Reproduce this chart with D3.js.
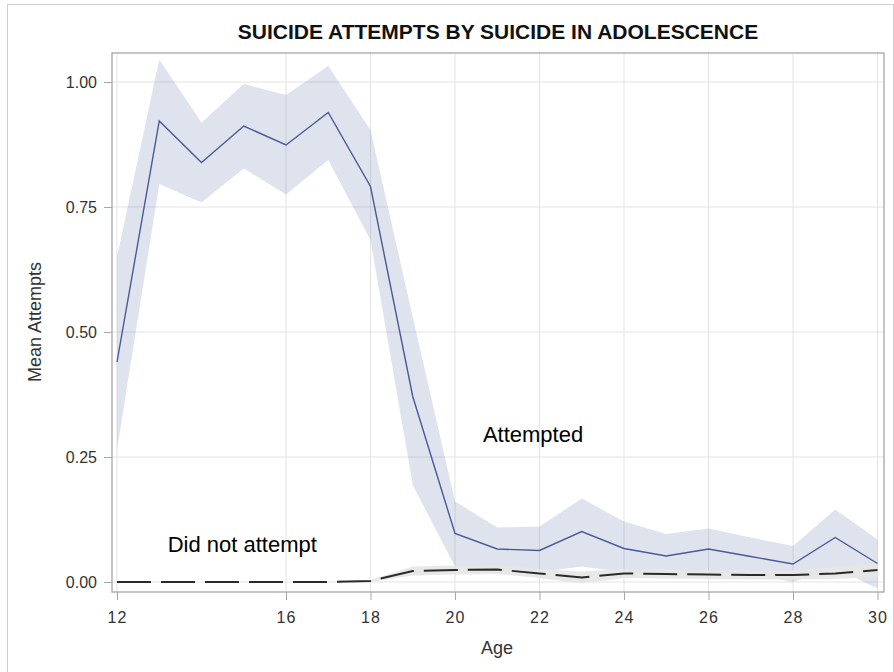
<!DOCTYPE html>
<html>
<head>
<meta charset="utf-8">
<script src="https://cdn.jsdelivr.net/npm/d3@7"></script>
<style>
  html, body { margin: 0; padding: 0; background: #fff; }
  svg { display: block; font-family: "Liberation Sans", Arial, sans-serif; }
</style>
</head>
<body>
<svg id="chart" width="894" height="672"></svg>
<script>
// Ages observed
const ages = [12, 13, 14, 15, 16, 17, 18, 19, 20, 21, 22, 23, 24, 25, 26, 27, 28, 29, 30];

// Group that attempted suicide in adolescence: mean and confidence limits
const attemptedMean  = [0.440, 0.922, 0.839, 0.912, 0.874, 0.939, 0.791, 0.371, 0.097, 0.066, 0.063, 0.101, 0.067, 0.052, 0.066, 0.051, 0.036, 0.089, 0.037];
const attemptedLower = [0.264, 0.796, 0.759, 0.827, 0.775, 0.844, 0.684, 0.194, 0.031, 0.028, 0.020, 0.031, 0.020, 0.015, 0.018, 0.016, 0.000, 0.028, -0.013];
const attemptedUpper = [0.650, 1.045, 0.919, 0.996, 0.974, 1.032, 0.904, 0.530, 0.161, 0.109, 0.111, 0.167, 0.121, 0.096, 0.107, 0.089, 0.072, 0.145, 0.085];

// Group that did not attempt: mean and confidence limits
const notMean  = [0, 0, 0, 0, 0, 0, 0.002, 0.022, 0.024, 0.025, 0.017, 0.009, 0.017, 0.016, 0.015, 0.014, 0.014, 0.017, 0.024];
const notLower = [0, 0, 0, 0, 0, 0, 0.000, 0.013, 0.015, 0.016, 0.008, -0.003, 0.008, 0.007, 0.006, 0.005, 0.005, 0.006, 0.010];
const notUpper = [0, 0, 0, 0, 0, 0, 0.004, 0.031, 0.033, 0.034, 0.026, 0.021, 0.026, 0.025, 0.024, 0.023, 0.023, 0.030, 0.038];

// Axis ticks
const xTicks = [12, 16, 18, 20, 22, 24, 26, 28, 30];
const yTicks = [0, 0.25, 0.5, 0.75, 1.0];

// Curve labels (age, value)
const curveLabels = [
  { text: "Attempted", age: 20.66, value: 0.28 },
  { text: "Did not attempt", age: 13.2, value: 0.06 }
];

const title = "SUICIDE ATTEMPTS BY SUICIDE IN ADOLESCENCE";
const xTitle = "Age";
const yTitle = "Mean Attempts";

const svg = d3.select("#chart");

// Outer border
svg.append("rect")
  .attr("x", 7.5).attr("y", 4.5)
  .attr("width", 886).attr("height", 700)
  .attr("fill", "none").attr("stroke", "#cfcfcf").attr("stroke-width", 1);

// Plot frame
const frame = { left: 112, right: 884, top: 53, bottom: 592 };

const x = d3.scaleLinear().domain([12, 30]).range([117, 877.5]);
const y = d3.scaleLinear().domain([0, 1]).range([582, 82]);

// Gridlines
const grid = svg.append("g");
grid.selectAll("line.vx").data(xTicks).join("line")
  .attr("x1", d => x(d)).attr("x2", d => x(d))
  .attr("y1", frame.top).attr("y2", frame.bottom)
  .attr("stroke", "#e3e3e3").attr("stroke-width", 1);
grid.selectAll("line.hy").data(yTicks).join("line")
  .attr("x1", frame.left).attr("x2", frame.right)
  .attr("y1", d => y(d)).attr("y2", d => y(d))
  .attr("stroke", "#e3e3e3").attr("stroke-width", 1);

const idx = d3.range(ages.length);

// Attempted confidence band
const bandA = d3.area()
  .x(i => x(ages[i]))
  .y0(i => y(attemptedLower[i]))
  .y1(i => y(attemptedUpper[i]));
svg.append("path").datum(idx)
  .attr("d", bandA)
  .attr("fill", "#6f7eb3").attr("fill-opacity", 0.22);

// Did-not-attempt confidence band
const bandN = d3.area()
  .x(i => x(ages[i]))
  .y0(i => y(notLower[i]))
  .y1(i => y(notUpper[i]));
svg.append("path").datum(idx)
  .attr("d", bandN)
  .attr("fill", "#e6e6e6").attr("fill-opacity", 0.92);

// Mean lines
const lineA = d3.line().x(i => x(ages[i])).y(i => y(attemptedMean[i]));
svg.append("path").datum(idx)
  .attr("d", lineA)
  .attr("fill", "none").attr("stroke", "#4a5a98").attr("stroke-width", 1.4);

const lineN = d3.line().x(i => x(ages[i])).y(i => y(notMean[i]));
svg.append("path").datum(idx)
  .attr("d", lineN)
  .attr("fill", "none").attr("stroke", "#2a2a2a").attr("stroke-width", 2)
  .attr("stroke-dasharray", "34,10");

// Frame on top
svg.append("rect")
  .attr("x", frame.left).attr("y", frame.top)
  .attr("width", frame.right - frame.left).attr("height", frame.bottom - frame.top)
  .attr("fill", "none").attr("stroke", "#a3a7ab").attr("stroke-width", 1.3);

// Axes
const xAxis = d3.axisBottom(x).tickValues(xTicks).tickFormat(d3.format("d"))
  .tickSize(8).tickSizeOuter(0);
const gx = svg.append("g").attr("transform", `translate(0,${frame.bottom})`).call(xAxis);
gx.select(".domain").remove();
gx.selectAll(".tick line").attr("stroke", "#a3a7ab");
gx.selectAll(".tick text")
  .attr("y", 20).attr("dy", "0.71em")
  .attr("fill", "#333").style("font-size", "16px").style("letter-spacing", "1px")
  .style("font-family", "'Liberation Sans', Arial, sans-serif");

const yAxis = d3.axisLeft(y).tickValues(yTicks).tickFormat(d3.format(".2f"))
  .tickSize(8).tickSizeOuter(0);
const gy = svg.append("g").attr("transform", `translate(${frame.left},0)`).call(yAxis);
gy.select(".domain").remove();
gy.selectAll(".tick line").attr("stroke", "#a3a7ab");
gy.selectAll(".tick text")
  .attr("x", -15)
  .attr("fill", "#333").style("font-size", "16px")
  .style("font-family", "'Liberation Sans', Arial, sans-serif");

// Titles
svg.append("text")
  .attr("x", 498).attr("y", 39)
  .attr("text-anchor", "middle")
  .style("font-size", "21px").style("font-weight", "bold")
  .attr("fill", "#111")
  .text(title);

svg.append("text")
  .attr("x", 497).attr("y", 654)
  .attr("text-anchor", "middle")
  .style("font-size", "18px").attr("fill", "#333")
  .text(xTitle);

svg.append("text")
  .attr("transform", "translate(41,322) rotate(-90)")
  .attr("text-anchor", "middle")
  .style("font-size", "18px").attr("fill", "#333")
  .text(yTitle);

// Curve labels
svg.selectAll("text.curve").data(curveLabels).join("text")
  .attr("class", "curve")
  .attr("x", d => x(d.age)).attr("y", d => y(d.value))
  .style("font-size", "22px").attr("fill", "#000")
  .text(d => d.text);
</script>
</body>
</html>
